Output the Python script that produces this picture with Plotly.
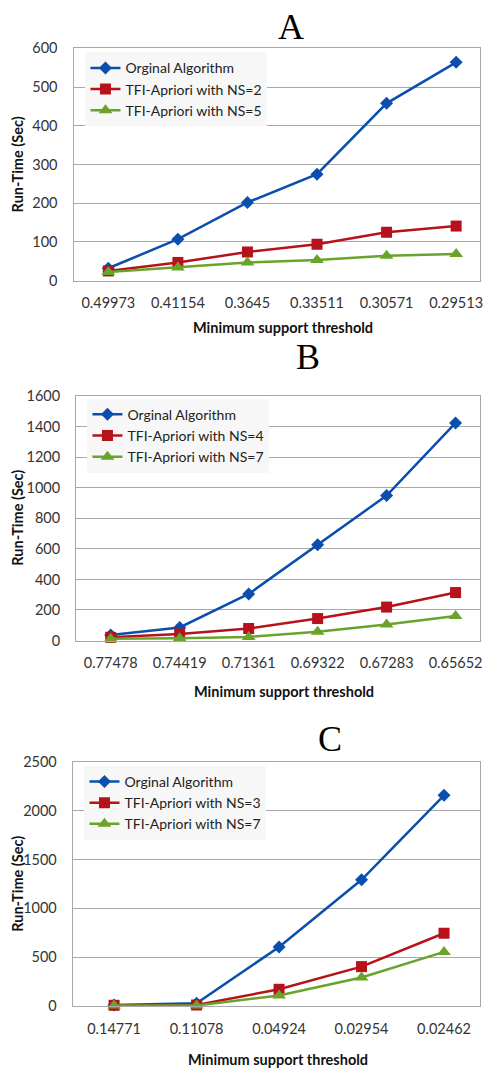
import plotly.graph_objects as go

# ---------------- data ----------------
cats_a = ["0.49973", "0.41154", "0.3645", "0.33511", "0.30571", "0.29513"]
orig_a = [32, 107, 202, 275, 458, 564]
ns2_a = [25, 47, 74, 94, 125, 141]
ns5_a = [22, 34, 47, 53, 64, 69]

cats_b = ["0.77478", "0.74419", "0.71361", "0.69322", "0.67283", "0.65652"]
orig_b = [36, 86, 305, 627, 949, 1424]
ns4_b = [21, 43, 79, 144, 219, 314]
ns7_b = [11, 15, 24, 58, 105, 161]

cats_c = ["0.14771", "0.11078", "0.04924", "0.02954", "0.02462"]
orig_c = [10, 27, 604, 1292, 2158]
ns3_c = [7, 10, 171, 403, 745]
ns7_c = [4, 5, 107, 292, 554]

names_a = ["Orginal Algorithm", "TFI-Apriori with NS=2", "TFI-Apriori with NS=5"]
names_b = ["Orginal Algorithm", "TFI-Apriori with NS=4", "TFI-Apriori with NS=7"]
names_c = ["Orginal Algorithm", "TFI-Apriori with NS=3", "TFI-Apriori with NS=7"]

W, H = 483, 1075
BLUE, RED, GREEN = "#0b4fae", "#b5121b", "#6aa329"
GRID = "#a8a8a8"
FONT = "Lato"
TICKSZ = 14.5

def py(px):
    return 1 - px / H

fig = go.Figure()

panels = [
    dict(cats=cats_a, series=[orig_a, ns2_a, ns5_a], names=names_a, xa="x", ya="y",
         leg="legend", ymax=600, dtick=100, xr=[-0.5, 5.343],
         xdom=[74 / W, 1], ydom=[py(276), py(40)]),
    dict(cats=cats_b, series=[orig_b, ns4_b, ns7_b], names=names_b, xa="x2", ya="y2",
         leg="legend2", ymax=1600, dtick=200, xr=[-0.5, 5.354],
         xdom=[76.7 / W, 1], ydom=[py(641.7), py(393.3)]),
    dict(cats=cats_c, series=[orig_c, ns3_c, ns7_c], names=names_c, xa="x3", ya="y3",
         leg="legend3", ymax=2500, dtick=500, xr=[-0.5, 4.436],
         xdom=[73.3 / W, 1], ydom=[py(1013), py(765)]),
]

styles = [
    dict(color=BLUE, symbol="diamond", size=10),
    dict(color=RED, symbol="square", size=11),
    dict(color=GREEN, symbol="triangle-up", size=12),
]

for pi, p in enumerate(panels):
    for si, (vals, name, st) in enumerate(zip(p["series"], p["names"], styles)):
        fig.add_trace(go.Scatter(
            x=p["cats"], y=vals, name=name, mode="lines+markers",
            xaxis=p["xa"], yaxis=p["ya"], legend=p["leg"],
            line=dict(color=st["color"], width=2.5),
            marker=dict(color=st["color"], symbol=st["symbol"], size=st["size"]),
            cliponaxis=False,
        ))

layout = dict(
    width=W, height=H, margin=dict(l=0, r=0, t=0, b=0),
    paper_bgcolor="white", plot_bgcolor="white", showlegend=True,
    font=dict(family=FONT, size=TICKSZ, color="#333333"),
)

for i, p in enumerate(panels):
    sfx = "" if i == 0 else str(i + 1)
    layout["xaxis" + sfx] = dict(
        domain=p["xdom"], anchor="y" + sfx, type="category", range=p["xr"],
        showgrid=False, showline=True, linecolor=GRID, linewidth=1.3, mirror=True,
        ticks="", tickfont=dict(family=FONT, size=TICKSZ, color="#333333"),
        ticklabelstandoff=9, zeroline=False, fixedrange=True,
    )
    layout["yaxis" + sfx] = dict(
        domain=p["ydom"], anchor="x" + sfx, range=[0, p["ymax"]], dtick=p["dtick"],
        showgrid=True, gridcolor=GRID, gridwidth=1.3, showline=True, linecolor=GRID,
        linewidth=1.3, mirror=True, ticks="", zeroline=False,
        tickfont=dict(family=FONT, size=TICKSZ, color="#333333"),
        ticklabelstandoff=12, fixedrange=True,
    )

legpos = [(86, 44), (88, 396), (85, 769)]
for i, (lx, ly) in enumerate(legpos):
    key = "legend" if i == 0 else "legend" + str(i + 1)
    layout[key] = dict(
        x=lx / W, y=py(ly), xanchor="left", yanchor="top", xref="paper", yref="paper",
        bgcolor="#f7f7f7", borderwidth=0, itemwidth=30,
        font=dict(family=FONT, size=14, color="#222222"),
    )

fig.update_layout(**layout)

# panel letters
for letter, x, y in [("A", 293, 18), ("B", 310, 354), ("C", 332, 742)]:
    fig.add_annotation(text=letter, x=x / W, y=py(y), xref="paper", yref="paper",
                       showarrow=False, xanchor="center", yanchor="middle",
                       font=dict(family="Liberation Serif", size=36, color="black"))

# axis titles
for (xc, yc), (yt_y) in zip([(285, 324), (286, 693), (280, 1067)], [158, 517, 889]):
    fig.add_annotation(text="<b>Minimum support threshold</b>", x=xc / W, y=py(yc),
                       xref="paper", yref="paper", showarrow=False,
                       xanchor="center", yanchor="middle",
                       font=dict(family=FONT, size=14.5, color="#111111"))
    fig.add_annotation(text="<b>Run-Time (Sec)</b>", x=18 / W, y=py(yt_y),
                       xref="paper", yref="paper", showarrow=False, textangle=-90,
                       xanchor="center", yanchor="middle",
                       font=dict(family=FONT, size=14.5, color="#111111"))

fig.write_html("out.html")
